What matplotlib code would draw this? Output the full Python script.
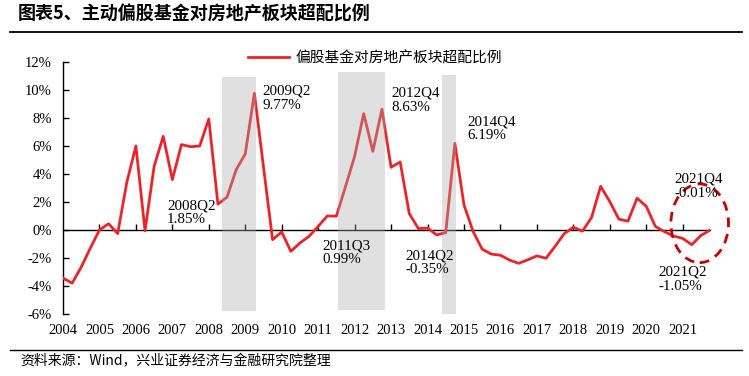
import matplotlib
matplotlib.use("Agg")
import matplotlib.pyplot as plt
from matplotlib.patches import Rectangle, Ellipse
from matplotlib.transforms import blended_transform_factory
import numpy as np

plt.rcParams['font.family'] = ['Liberation Serif', 'Noto Sans CJK SC', 'DejaVu Sans']

# ---- data (quarterly, 2004Q1 .. 2021Q4), % ----
years = [str(y) for y in range(2004, 2022)]
values = [
    -3.43, -3.80, -2.65, -1.29,    # 2004
    0.00, 0.45, -0.26, 3.40,       # 2005
    6.00, -0.05, 4.55, 6.69,       # 2006
    3.60, 6.10, 5.95, 6.00,        # 2007
    7.93, 1.85, 2.35, 4.30,        # 2008
    5.43, 9.77, 4.50, -0.69,       # 2009
    -0.14, -1.52, -0.93, -0.45,    # 2010
    0.26, 1.00, 0.99, 3.10,        # 2011
    5.26, 8.31, 5.62, 8.63,        # 2012
    4.48, 4.86, 1.17, 0.10,        # 2013
    0.14, -0.35, -0.19, 6.19,      # 2014
    1.80, -0.10, -1.37, -1.72,     # 2015
    -1.80, -2.15, -2.38, -2.13,    # 2016
    -1.85, -2.02, -1.17, -0.26,    # 2017
    0.20, -0.08, 0.89, 3.12,       # 2018
    2.03, 0.77, 0.63, 2.27,        # 2019
    1.70, 0.26, -0.12, -0.43,      # 2020
    -0.60, -1.05, -0.39, -0.01,    # 2021
]
series_name = '偏股基金对房地产板块超配比例'
y_ticks = [-6, -4, -2, 0, 2, 4, 6, 8, 10, 12]

# shaded periods (category index ranges) and vertical extent (%)
shade_ranges = [(17.4, 21.2), (30.2, 35.3), (41.6, 43.1)]
shade_tops = [10.93, 11.26, 11.07]
shade_bottoms = [-5.79, -5.71, -6.07]

# annotations: (text, x index, top y %)
annotations = [
    ('2008Q2\n1.85%', 11.4, 2.21),
    ('2009Q2\n9.77%', 21.84, 10.36),
    ('2011Q3\n0.99%', 28.5, -0.66),
    ('2012Q4\n8.63%', 36.08, 10.24),
    ('2014Q2\n-0.35%', 37.62, -1.38),
    ('2014Q4\n6.19%', 44.42, 8.21),
    ('2021Q4\n-0.01%', 67.07, 4.09),
    ('2021Q2\n-1.05%', 65.35, -2.57),
]

x = np.arange(len(values))

fig = plt.figure(figsize=(7.49, 3.76), dpi=100)
ax = fig.add_axes([63 / 749, 1 - 314 / 376, (710 - 63) / 749, (314 - 62) / 376])

ax.plot(x, values, color='#E8262A', lw=2.0, zorder=3, label=series_name)

for (a, b), t, bt in zip(shade_ranges, shade_tops, shade_bottoms):
    ax.add_patch(Rectangle((a, bt), b - a, t - bt, facecolor='#ababab',
                           alpha=0.36, edgecolor='none', zorder=4))

ax.add_patch(Ellipse((69.87, 0.48), 6.32, 5.62, fill=False, edgecolor='#C00000',
                     lw=2.0, ls=(0, (3.5, 2.5)), zorder=5, clip_on=False))

for txt, xi, yt in annotations:
    ax.text(xi, yt, txt, fontsize=10.8, va='top', ha='left',
            linespacing=1.1, zorder=6)

ax.set_xlim(0, len(values) - 1)
ax.set_ylim(-6, 12)
ax.set_yticks(y_ticks)
ax.set_yticklabels([f'{v}%' for v in y_ticks], fontsize=10.5)

ax.spines['top'].set_visible(False)
ax.spines['right'].set_visible(False)
ax.spines['bottom'].set_position(('data', 0))
ax.spines['left'].set_linewidth(1.0)
ax.spines['bottom'].set_linewidth(1.0)
ax.tick_params(axis='y', direction='in', length=4, width=1.0, pad=8)

year_pos = np.arange(0, len(values), 4)
ax.set_xticks(year_pos[1:])
ax.tick_params(axis='x', direction='in', length=4, width=1.0, labelbottom=False)

trans = blended_transform_factory(ax.transData, ax.transAxes)
for pos, yl in zip(year_pos, years):
    ax.text(pos, -0.065, yl, transform=trans, ha='center', va='center',
            fontsize=10.5)

leg = ax.legend(loc='upper center', bbox_to_anchor=(0.482, 1.095), frameon=False,
                handlelength=2.8, handletextpad=0.4,
                prop={'family': ['Noto Sans CJK SC'], 'size': 10.6})

# title, separator lines, source
fig.text(18 / 749, 1 - 14 / 376, '图表5、主动偏股基金对房地产板块超配比例',
         fontsize=13, fontweight='bold', family=['Noto Sans CJK SC'],
         ha='left', va='center')
fig.add_artist(plt.Line2D([10 / 749, 742 / 749], [1 - 32 / 376, 1 - 32 / 376],
                          color='black', lw=1.3))
fig.add_artist(plt.Line2D([10 / 749, 742 / 749], [1 - 350 / 376, 1 - 350 / 376],
                          color='black', lw=1.0))
fig.text(20 / 749, 1 - 361 / 376, '资料来源：Wind，兴业证券经济与金融研究院整理',
         fontsize=10, family=['Noto Sans CJK SC', 'DejaVu Sans'],
         ha='left', va='center')

fig.savefig('out.png', dpi=100)
